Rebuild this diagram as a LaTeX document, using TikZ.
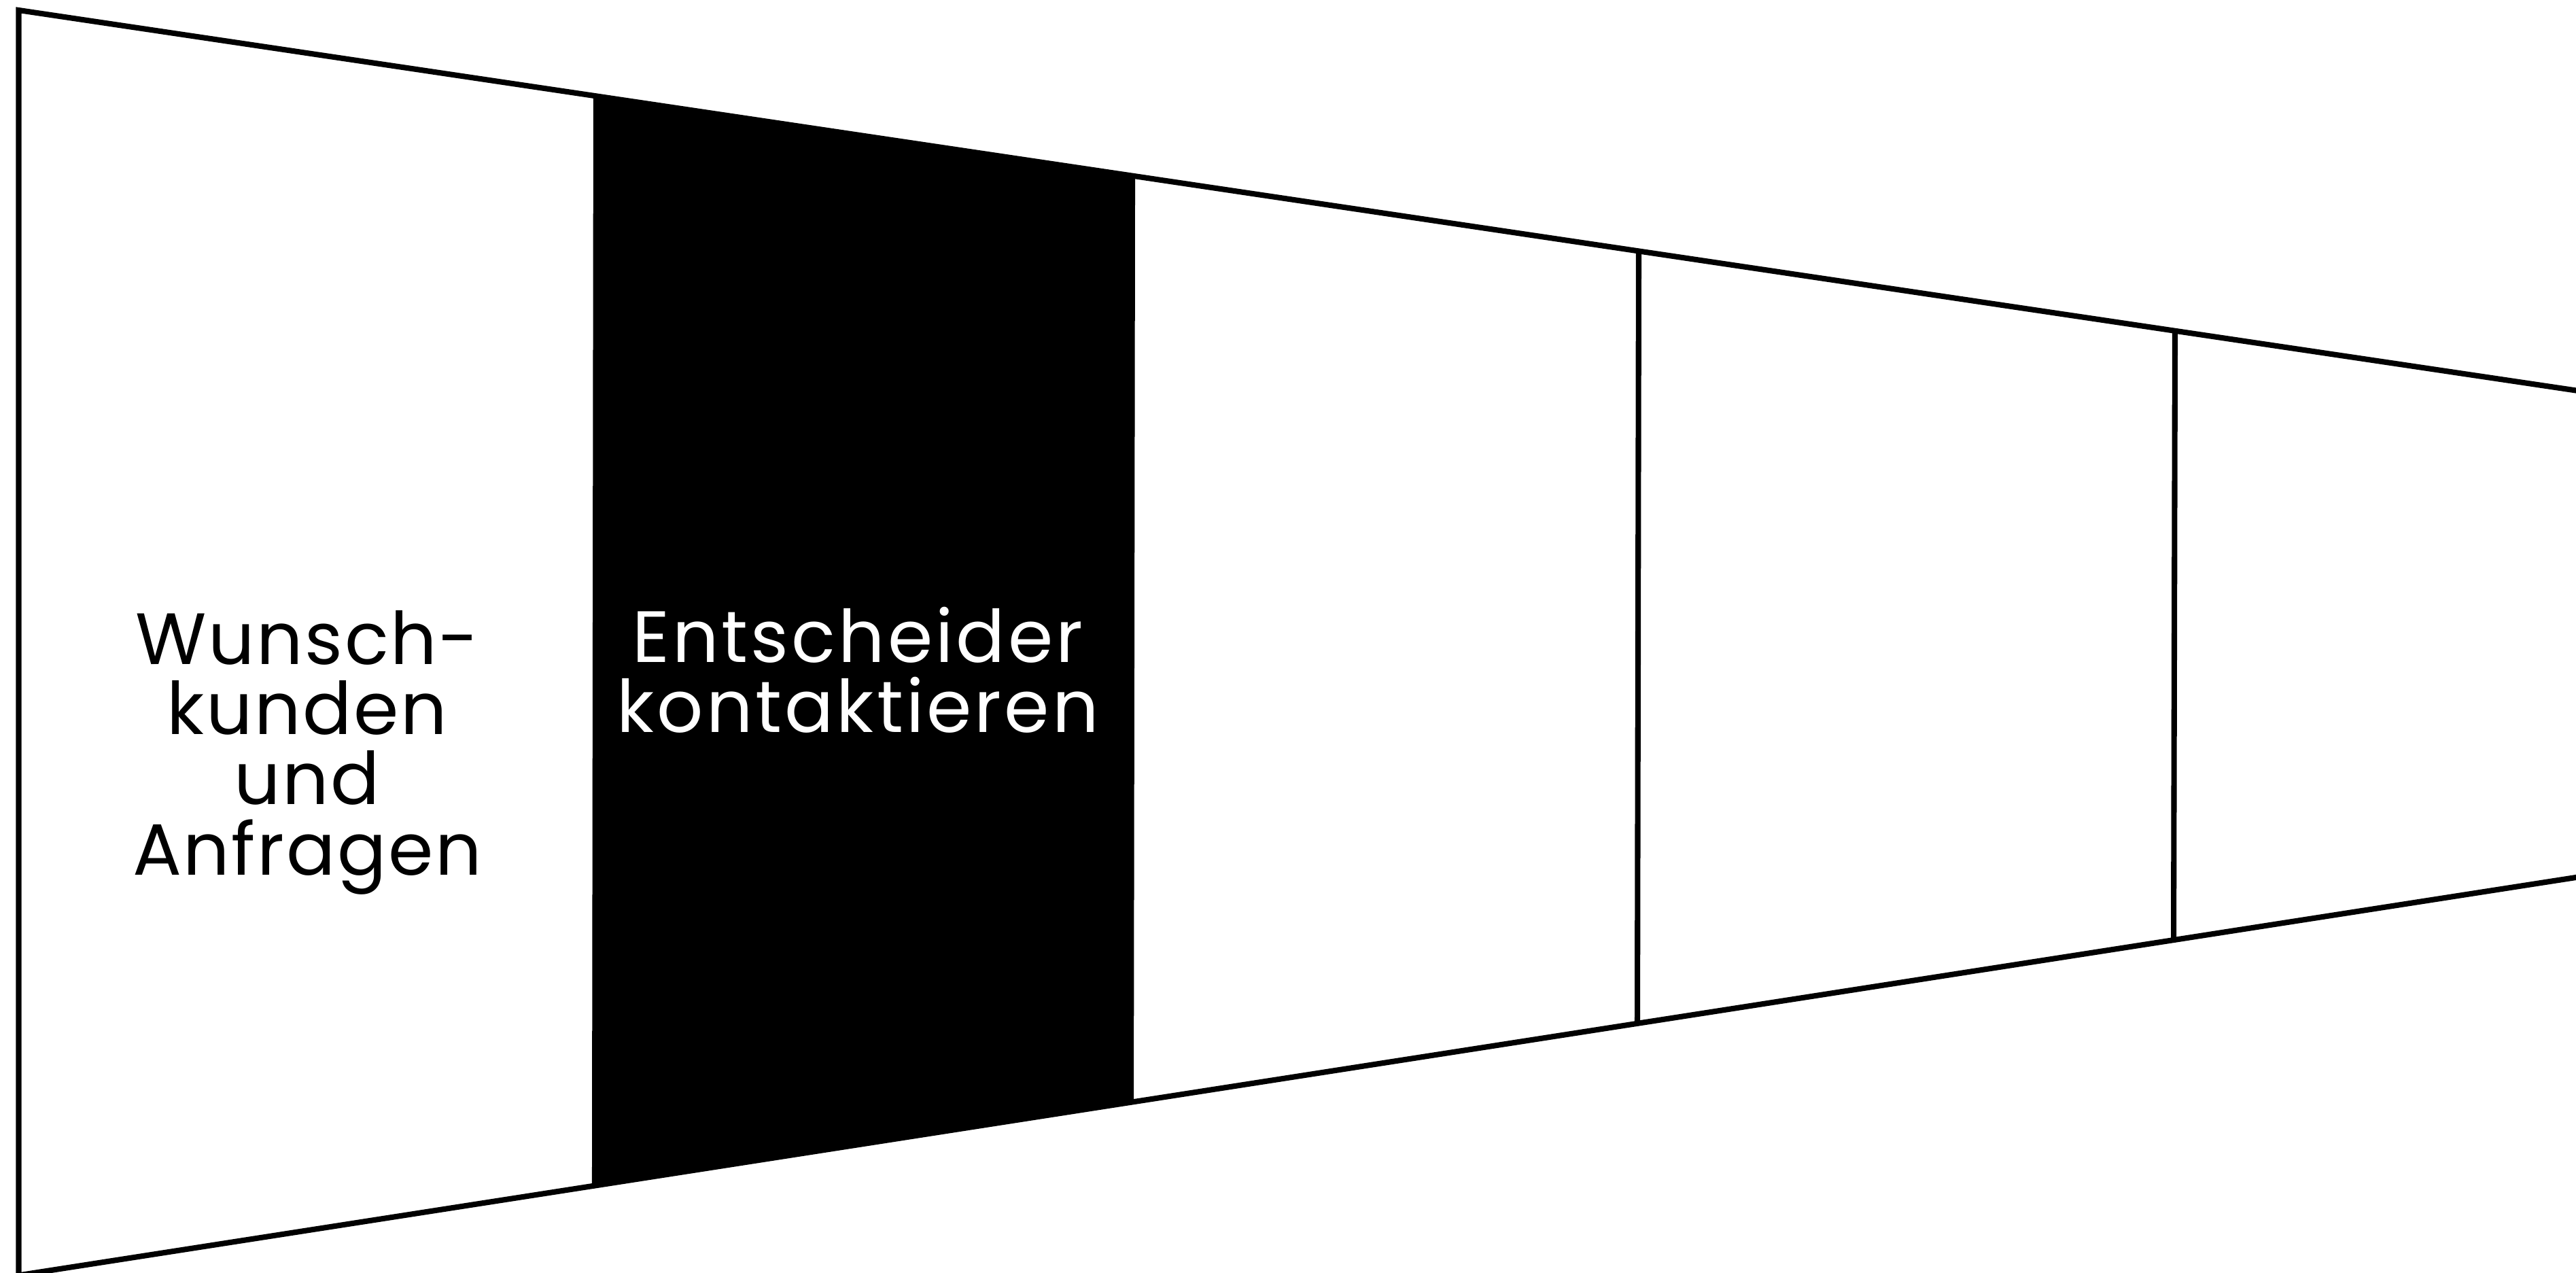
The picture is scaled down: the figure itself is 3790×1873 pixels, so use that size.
\documentclass[tikz,border=0pt]{standalone}
\usepackage{fontspec}
\setmainfont{Poppins}
\begin{document}
\begin{tikzpicture}[x=0.01cm,y=-0.01cm,
  frame/.style={line width=2.3pt,line join=miter,black},
  lbl/.style={align=center,inner sep=0pt,font=\fontsize{30.4}{29.4}\selectfont}]
\useasboundingbox (0,0) rectangle (3790,1873);
% black segment
\fill[black] (877,141.3) -- (1666,258.6) -- (1664,1621.8) -- (875,1744.5) -- cycle;
\draw[frame] (877,141.3) -- (875,1744.5);
\draw[frame] (1666,258.6) -- (1664,1621.8);
% outline
\draw[frame] (3800,576) -- (27.5,15) -- (27.5,1880);
\draw[frame] (27.5,1876.4) -- (3800,1289.4);
% dividers
\draw[frame] (2411,369.4) -- (2409,1505.8);
\draw[frame] (3200,486.8) -- (3198,1383.1);
% labels
\node[lbl,font=\fontsize{30.4}{29.4}\selectfont\addfontfeatures{LetterSpace=2.5}] (s1) at (452,1107) {Wunsch-\\kunden\\und\\Anfragen};
\node[lbl,text=white,font=\fontsize{30.4}{29.4}\selectfont\addfontfeatures{LetterSpace=3.8}] (s2) at (1262,986) {Entscheider\\kontaktieren};
\end{tikzpicture}
\end{document}
